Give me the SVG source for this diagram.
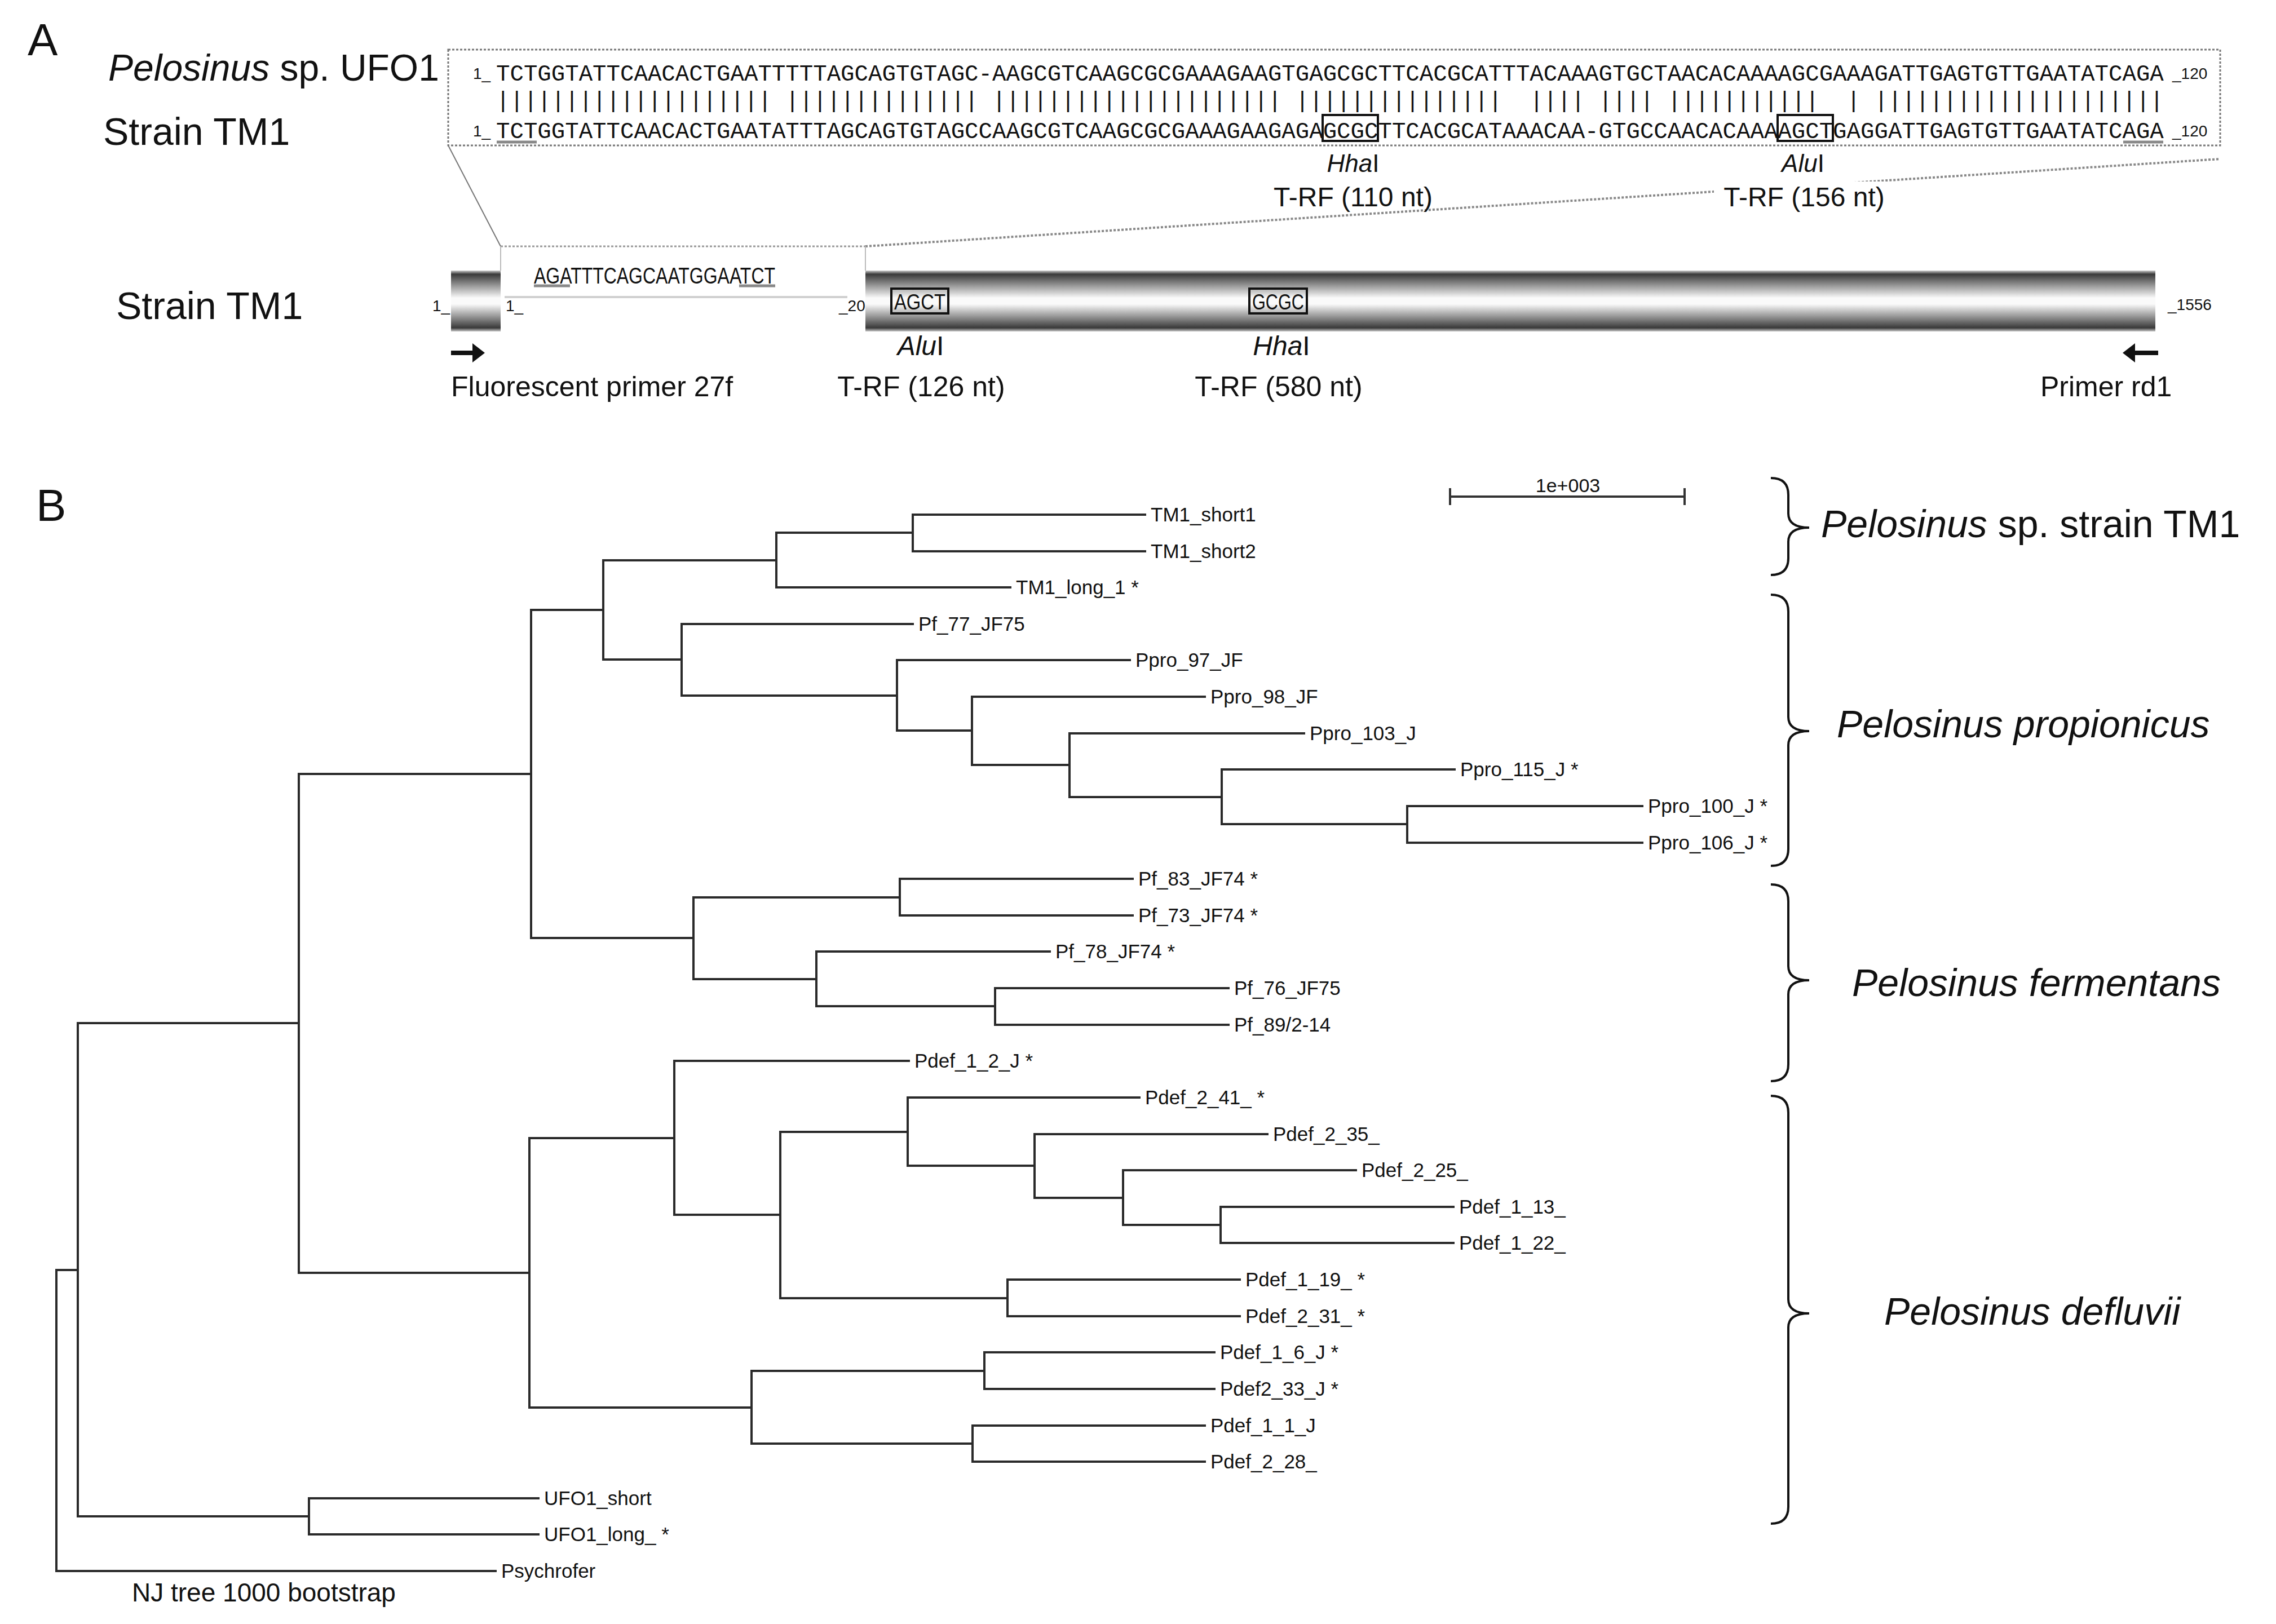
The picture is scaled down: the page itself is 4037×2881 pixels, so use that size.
<svg xmlns="http://www.w3.org/2000/svg" width="4037" height="2881" viewBox="0 0 4037 2881">
<style>
.t{font-family:"Liberation Sans",Arial,sans-serif;fill:#111}
.leaf{font-size:35px}
.sp{font-size:68px}
.mid{font-size:50px}
.sm{font-size:28px}
.seq{font-family:"Liberation Mono","Courier New",monospace;font-size:40.74px;fill:#111}
.it{font-style:italic}
.br{fill:none;stroke:#2a2a2a;stroke-width:4;stroke-linecap:square}
.brace{fill:none;stroke:#111;stroke-width:4}
.ul{stroke:#888;stroke-width:5}
.box{fill:none;stroke:#111;stroke-width:4}
</style>
<defs>
<linearGradient id="cyl" x1="0" y1="0" x2="0" y2="1">
<stop offset="0" stop-color="#c8c8c8"/>
<stop offset="0.06" stop-color="#3a3a3a"/>
<stop offset="0.22" stop-color="#8a8a8a"/>
<stop offset="0.45" stop-color="#fafafa"/>
<stop offset="0.55" stop-color="#fafafa"/>
<stop offset="0.78" stop-color="#8a8a8a"/>
<stop offset="0.94" stop-color="#3a3a3a"/>
<stop offset="1" stop-color="#c8c8c8"/>
</linearGradient>
</defs>
<rect width="4037" height="2881" fill="#fff"/>

<!-- Panel A -->
<g id="panelA">
<text class="t" x="49" y="98" font-size="80">A</text>
<text class="t" x="192" y="143" font-size="66"><tspan class="it">Pelosinus</tspan> sp. UFO1</text>
<text class="t" x="183" y="257" font-size="68">Strain TM1</text>
<g id="alignment">
<rect x="795" y="88" width="3143" height="170" fill="none" stroke="#777" stroke-width="3" stroke-dasharray="4 3"/>
<text class="t sm" x="839" y="140">1_</text>
<text class="t sm" x="839" y="242">1_</text>
<text class="t sm" x="3853" y="140">_120</text>
<text class="t sm" x="3853" y="242">_120</text>
<text class="seq" x="880" y="143" xml:space="preserve">TCTGGTATTCAACACTGAATTTTTAGCAGTGTAGC- <tspan dx="-24.45">AAGCGTCAAGCGCGAAAGAAGTGAGCGCTTCACGCATTTACAAAGTGCTAACACAAAAGCGAAAGATTGAGTGTTGAATATCAGA</tspan></text>
<text class="seq" x="880" y="191" xml:space="preserve">|||||||||||||||||||| |||||||||||||| ||||||||||||||||||||| |||||||||||||||  |||| |||| |||||||||||  | |||||||||||||||||||||</text>
<text class="seq" x="880" y="245" xml:space="preserve">TCTGGTATTCAACACTGAATATTTAGCAGTGTAGCCAAGCGTCAAGCGCGAAAGAAGAGAGCGCTTCACGCATAAACAA- <tspan dx="-24.45">GTGCCAACACAAAAGCTGAGGATTGAGTGTTGAATATCAGA</tspan></text>
<line class="ul" x1="881" y1="252" x2="952" y2="252"/>
<line class="ul" x1="3766" y1="252" x2="3837" y2="252"/>
<rect class="box" x="2346" y="204" width="98" height="46"/>
<rect class="box" x="3153" y="204" width="98" height="46"/>
</g>

<g id="zoom-lines">
<line x1="795" y1="258" x2="888" y2="437" stroke="#777" stroke-width="2"/>
<line x1="1535" y1="437" x2="3938" y2="282" stroke="#888" stroke-width="4" stroke-dasharray="4 3"/>
</g>

<g id="site-top-hha">
<text class="t" x="2400" y="305" font-size="44" text-anchor="middle"><tspan class="it">Hha</tspan>I</text>
<text class="t" x="2400" y="366" font-size="48" text-anchor="middle">T-RF (110 nt)</text>
</g>
<g id="site-top-alu">
<rect x="3040" y="322" width="330" height="58" fill="#fff"/>
<text class="t" x="3198" y="305" font-size="44" text-anchor="middle"><tspan class="it">Alu</tspan>I</text>
<text class="t" x="3200" y="366" font-size="48" text-anchor="middle">T-RF (156 nt)</text>
</g>

<text class="t" x="206" y="566" font-size="68">Strain TM1</text>
<g id="gene-bar">
<rect x="800" y="480" width="88" height="108" fill="url(#cyl)"/>
<rect x="1535" y="480" width="2288" height="108" fill="url(#cyl)"/>
<line x1="888" y1="437" x2="1535" y2="437" stroke="#999" stroke-width="3" stroke-dasharray="4 3"/>
<line x1="888" y1="437" x2="888" y2="480" stroke="#bbb" stroke-width="2"/>
<line x1="1535" y1="437" x2="1535" y2="480" stroke="#bbb" stroke-width="2"/>
<line x1="895" y1="527" x2="1503" y2="527" stroke="#d0d0d0" stroke-width="4"/>
<text class="t" x="947" y="503" font-size="40" textLength="428" lengthAdjust="spacingAndGlyphs">AGATTTCAGCAATGGAATCT</text>
<line class="ul" x1="947" y1="507" x2="1011" y2="507"/>
<line class="ul" x1="1311" y1="507" x2="1375" y2="507"/>
<text class="t sm" x="767" y="552">1_</text>
<text class="t sm" x="897" y="552">1_</text>
<text class="t sm" x="1488" y="552">_20</text>
<text class="t sm" x="3845" y="550">_1556</text>
<rect class="box" x="1581" y="512" width="101" height="44"/>
<text class="t" x="1586" y="549" font-size="38" textLength="91" lengthAdjust="spacingAndGlyphs">AGCT</text>
<rect class="box" x="2216" y="512" width="102" height="44"/>
<text class="t" x="2221" y="549" font-size="38" textLength="92" lengthAdjust="spacingAndGlyphs">GCGC</text>
</g>
<g id="site-alu">
<text class="t" x="1633" y="630" font-size="48" text-anchor="middle"><tspan class="it">Alu</tspan>I</text>
<text class="t mid" x="1634" y="703" text-anchor="middle">T-RF (126 nt)</text>
</g>
<g id="site-hha">
<text class="t" x="2273" y="630" font-size="48" text-anchor="middle"><tspan class="it">Hha</tspan>I</text>
<text class="t mid" x="2268" y="703" text-anchor="middle">T-RF (580 nt)</text>
</g>
<g id="primer-27f">
<path d="M800 622 H838 V609 L860 626 L838 643 V630 H800 Z" fill="#111"/>
<text class="t mid" x="800" y="703">Fluorescent primer 27f</text>
</g>
<g id="primer-rd1">
<path d="M3828 622 H3787 V609 L3765 626 L3787 643 V630 H3828 Z" fill="#111"/>
<text class="t mid" x="3619" y="703">Primer rd1</text>
</g>
</g>

<!-- Panel B -->
<text class="t" x="64" y="924" font-size="80">B</text>
<g id="scale-bar">
<path d="M2572 881 H2988 M2572 866 V896 M2988 866 V896" stroke="#333" stroke-width="4" fill="none"/>
<text class="t" x="2781" y="873" font-size="34" text-anchor="middle">1e+003</text>
</g>

<g id="connectors">
<path class="br" d="M138 2253 H100 V2787 H879"/>
<path class="br" d="M530 1815 H138 V2690 H548"/>
<path class="br" d="M955 2658 H548 V2722 H955"/>
<path class="br" d="M942 1373 H530 V2258 H939"/>
<path class="br" d="M1070 1082 H942 V1664 H1230"/>
<path class="br" d="M1377 994 H1070 V1170 H1209"/>
<path class="br" d="M1619 945 H1377 V1042 H1792"/>
<path class="br" d="M2031 913 H1619 V978 H2031"/>
<path class="br" d="M1619 1107 H1209 V1234 H1591"/>
<path class="br" d="M2004 1171 H1591 V1296 H1724"/>
<path class="br" d="M2137 1236 H1724 V1357 H1897"/>
<path class="br" d="M2313 1301 H1897 V1414 H2167"/>
<path class="br" d="M2580 1365 H2167 V1462 H2496"/>
<path class="br" d="M2913 1430 H2496 V1495 H2913"/>
<path class="br" d="M1596 1592 H1230 V1737 H1448"/>
<path class="br" d="M2009 1559 H1596 V1624 H2009"/>
<path class="br" d="M1862 1688 H1448 V1785 H1765"/>
<path class="br" d="M2179 1753 H1765 V1818 H2179"/>
<path class="br" d="M1196 2019 H939 V2497 H1333"/>
<path class="br" d="M1612 1882 H1196 V2155 H1384"/>
<path class="br" d="M1610 2008 H1384 V2303 H1787"/>
<path class="br" d="M2021 1947 H1610 V2068 H1835"/>
<path class="br" d="M2248 2012 H1835 V2125 H1992"/>
<path class="br" d="M2405 2076 H1992 V2173 H2165"/>
<path class="br" d="M2578 2141 H2165 V2205 H2578"/>
<path class="br" d="M2199 2270 H1787 V2335 H2199"/>
<path class="br" d="M1746 2432 H1333 V2561 H1725"/>
<path class="br" d="M2154 2399 H1746 V2464 H2154"/>
<path class="br" d="M2137 2529 H1725 V2593 H2137"/>
</g>

<g id="leaves">
<g id="leaf-TM1_short1"><text class="t leaf" x="2041" y="925">TM1_short1</text></g>
<g id="leaf-TM1_short2"><text class="t leaf" x="2041" y="990">TM1_short2</text></g>
<g id="leaf-TM1_long_1"><text class="t leaf" x="1802" y="1054">TM1_long_1 *</text></g>
<g id="leaf-Pf_77_JF75"><text class="t leaf" x="1629" y="1119">Pf_77_JF75</text></g>
<g id="leaf-Ppro_97_JF"><text class="t leaf" x="2014" y="1183">Ppro_97_JF</text></g>
<g id="leaf-Ppro_98_JF"><text class="t leaf" x="2147" y="1248">Ppro_98_JF</text></g>
<g id="leaf-Ppro_103_J"><text class="t leaf" x="2323" y="1313">Ppro_103_J</text></g>
<g id="leaf-Ppro_115_J"><text class="t leaf" x="2590" y="1377">Ppro_115_J *</text></g>
<g id="leaf-Ppro_100_J"><text class="t leaf" x="2923" y="1442">Ppro_100_J *</text></g>
<g id="leaf-Ppro_106_J"><text class="t leaf" x="2923" y="1507">Ppro_106_J *</text></g>
<g id="leaf-Pf_83_JF74"><text class="t leaf" x="2019" y="1571">Pf_83_JF74 *</text></g>
<g id="leaf-Pf_73_JF74"><text class="t leaf" x="2019" y="1636">Pf_73_JF74 *</text></g>
<g id="leaf-Pf_78_JF74"><text class="t leaf" x="1872" y="1700">Pf_78_JF74 *</text></g>
<g id="leaf-Pf_76_JF75"><text class="t leaf" x="2189" y="1765">Pf_76_JF75</text></g>
<g id="leaf-Pf_89"><text class="t leaf" x="2189" y="1830">Pf_89/2-14</text></g>
<g id="leaf-Pdef_1_2_J"><text class="t leaf" x="1622" y="1894">Pdef_1_2_J *</text></g>
<g id="leaf-Pdef_2_41"><text class="t leaf" x="2031" y="1959">Pdef_2_41_ *</text></g>
<g id="leaf-Pdef_2_35"><text class="t leaf" x="2258" y="2024">Pdef_2_35_</text></g>
<g id="leaf-Pdef_2_25"><text class="t leaf" x="2415" y="2088">Pdef_2_25_</text></g>
<g id="leaf-Pdef_1_13"><text class="t leaf" x="2588" y="2153">Pdef_1_13_</text></g>
<g id="leaf-Pdef_1_22"><text class="t leaf" x="2588" y="2217">Pdef_1_22_</text></g>
<g id="leaf-Pdef_1_19"><text class="t leaf" x="2209" y="2282">Pdef_1_19_ *</text></g>
<g id="leaf-Pdef_2_31"><text class="t leaf" x="2209" y="2347">Pdef_2_31_ *</text></g>
<g id="leaf-Pdef_1_6_J"><text class="t leaf" x="2164" y="2411">Pdef_1_6_J *</text></g>
<g id="leaf-Pdef2_33_J"><text class="t leaf" x="2164" y="2476">Pdef2_33_J *</text></g>
<g id="leaf-Pdef_1_1_J"><text class="t leaf" x="2147" y="2541">Pdef_1_1_J</text></g>
<g id="leaf-Pdef_2_28"><text class="t leaf" x="2147" y="2605">Pdef_2_28_</text></g>
<g id="leaf-UFO1_short"><text class="t leaf" x="965" y="2670">UFO1_short</text></g>
<g id="leaf-UFO1_long"><text class="t leaf" x="965" y="2734">UFO1_long_ *</text></g>
<g id="leaf-Psychrofer"><text class="t leaf" x="889" y="2799">Psychrofer</text></g>
</g>

<g id="clade-TM1">
<path class="brace" d="M3141 848 Q3172 848 3172 878 L3172 911 Q3172 936 3209 936 Q3172 936 3172 961 L3172 990 Q3172 1020 3141 1020"/>
<text class="t sp" x="3230" y="953"><tspan class="it">Pelosinus</tspan> sp. strain TM1</text>
</g>
<g id="clade-propionicus">
<path class="brace" d="M3141 1055 Q3172 1055 3172 1085 L3172 1272 Q3172 1297 3209 1297 Q3172 1297 3172 1322 L3172 1506 Q3172 1536 3141 1536"/>
<text class="t sp it" x="3258" y="1308">Pelosinus propionicus</text>
</g>
<g id="clade-fermentans">
<path class="brace" d="M3141 1569 Q3172 1569 3172 1599 L3172 1714 Q3172 1739 3209 1739 Q3172 1739 3172 1764 L3172 1888 Q3172 1918 3141 1918"/>
<text class="t sp it" x="3285" y="1767">Pelosinus fermentans</text>
</g>
<g id="clade-defluvii">
<path class="brace" d="M3141 1944 Q3172 1944 3172 1974 L3172 2305 Q3172 2330 3209 2330 Q3172 2330 3172 2355 L3172 2673 Q3172 2703 3141 2703"/>
<text class="t sp it" x="3342" y="2350">Pelosinus defluvii</text>
</g>

<text class="t" x="234" y="2841" font-size="46">NJ tree 1000 bootstrap</text>
</svg>
